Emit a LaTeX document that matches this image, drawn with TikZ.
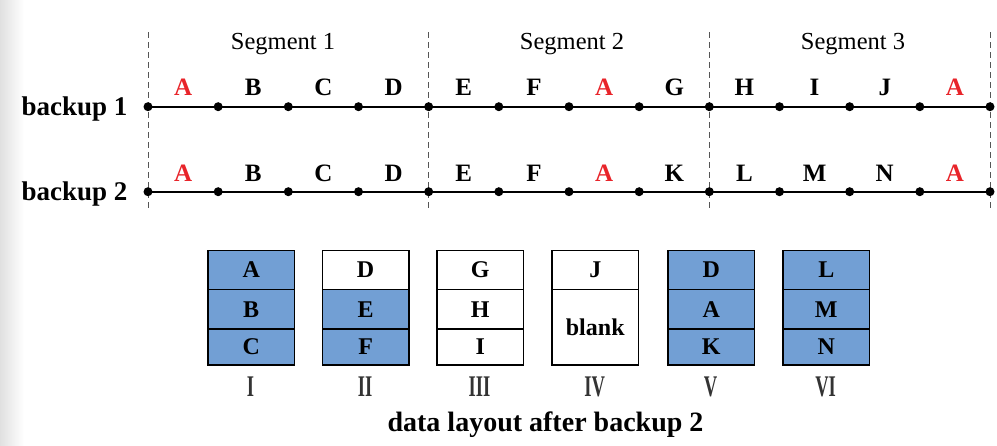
\documentclass[tikz,border=0pt]{standalone}
\usepackage{fontspec}
\setmainfont{Liberation Serif}
\newfontfamily\romanfont[FakeStretch=0.62]{Liberation Serif Bold}
\definecolor{cellblue}{HTML}{729FD4}
\definecolor{hlred}{HTML}{E8242A}
\definecolor{dashgray}{HTML}{555555}
\definecolor{numgray}{HTML}{333333}
\begin{document}
\begin{tikzpicture}[x=1pt,y=-1pt,
  dot/.style={circle,fill=black,inner sep=0pt,minimum size=9pt},
  mainline/.style={line width=2.4pt},
  sepline/.style={dashgray,dashed,line width=0.9pt,dash pattern=on 6pt off 4pt},
  seglbl/.style={font=\fontsize{24.5}{29}\selectfont,anchor=base},
  rowlbl/.style={font=\fontsize{27}{32}\selectfont\bfseries,anchor=base east},
  letter/.style={font=\fontsize{25}{30}\selectfont\bfseries,anchor=base},
  redletter/.style={letter,text=hlred},
  cell/.style={draw=black,line width=1.2pt,minimum width=86.7pt,inner sep=0pt,
    anchor=north west,font=\fontsize{24}{28}\selectfont\bfseries,text height=16pt,text depth=0pt},
  bluecell/.style={cell,fill=cellblue},
  whitecell/.style={cell,fill=white},
  roman/.style={font=\romanfont\fontsize{30}{34}\selectfont,text=numgray,anchor=base},
  caption/.style={font=\fontsize{28}{33}\selectfont\bfseries,anchor=base}]
\useasboundingbox (0,0) rectangle (997,445);
\shade[left color=black!12,right color=white] (0,0) rectangle (24,445);

% dashed segment separators
\foreach \k/\x in {0/148,1/428.7,2/709.3,3/990}{
  \coordinate (dt\k) at (\x,32);
  \coordinate (db\k) at (\x,210);
}
\foreach \k in {0,1,2,3}{ \draw[sepline] (dt\k) -- (db\k); }

% segment labels
\node[seglbl] (seg1) at (283,49) {Segment 1};
\node[seglbl] (seg2) at (572,49) {Segment 2};
\node[seglbl] (seg3) at (853,49) {Segment 3};

% row labels
\node[rowlbl] (bk1) at (131,115) {backup 1};
\node[rowlbl] (bk2) at (131,200) {backup 2};

% timelines
\foreach \i in {0,...,12}{
  \coordinate (u\i) at ({148+70.1667*\i},106.7);
  \coordinate (v\i) at ({148+70.1667*\i},191.7);
}
\draw[mainline] (u0) -- (u12);
\draw[mainline] (v0) -- (v12);
\foreach \i in {0,...,12}{
  \node[dot] (pu\i) at (u\i) {};
  \node[dot] (pv\i) at (v\i) {};
}

% letters backup 1
\foreach \i/\t/\s in {0/A/redletter,1/B/letter,2/C/letter,3/D/letter,4/E/letter,5/F/letter,
  6/A/redletter,7/G/letter,8/H/letter,9/I/letter,10/J/letter,11/A/redletter}{
  \node[\s] (la\i) at ({183.08+70.1667*\i},95) {\t};
}
% letters backup 2
\foreach \i/\t/\s in {0/A/redletter,1/B/letter,2/C/letter,3/D/letter,4/E/letter,5/F/letter,
  6/A/redletter,7/K/letter,8/L/letter,9/M/letter,10/N/letter,11/A/redletter}{
  \node[\s] (lb\i) at ({183.08+70.1667*\i},181) {\t};
}

% data layout boxes
% Box I
\node[bluecell,minimum height=39.2pt] (b1a) at (207.3,249.5) {A};
\node[bluecell,minimum height=39.6pt] (b1b) at (207.3,288.7) {B};
\node[bluecell,minimum height=36pt]   (b1c) at (207.3,328.3) {C};
% Box II
\node[whitecell,minimum height=39.2pt] (b2a) at (321.7,249.5) {D};
\node[bluecell,minimum height=39.6pt]  (b2b) at (321.7,288.7) {E};
\node[bluecell,minimum height=36pt]    (b2c) at (321.7,328.3) {F};
% Box III
\node[whitecell,minimum height=39.2pt] (b3a) at (436.3,249.5) {G};
\node[whitecell,minimum height=39.6pt] (b3b) at (436.3,288.7) {H};
\node[whitecell,minimum height=36pt]   (b3c) at (436.3,328.3) {I};
% Box IV
\node[whitecell,minimum height=39.2pt] (b4a) at (551.3,249.5) {J};
\node[whitecell,minimum height=75.6pt] (b4b) at (551.3,288.7) {blank};
% Box V
\node[bluecell,minimum height=39.2pt] (b5a) at (667.3,249.5) {D};
\node[bluecell,minimum height=39.6pt] (b5b) at (667.3,288.7) {A};
\node[bluecell,minimum height=36pt]   (b5c) at (667.3,328.3) {K};
% Box VI
\node[bluecell,minimum height=39.2pt] (b6a) at (782.3,249.5) {L};
\node[bluecell,minimum height=39.6pt] (b6b) at (782.3,288.7) {M};
\node[bluecell,minimum height=36pt]   (b6c) at (782.3,328.3) {N};

% roman numerals
\node[roman] (r1) at (250.6,396) {I};
\node[roman] (r2) at (365,396) {II};
\node[roman] (r3) at (479.6,396) {III};
\node[roman] (r4) at (594.6,396) {IV};
\node[roman] (r5) at (710.6,396) {V};
\node[roman] (r6) at (825.6,396) {VI};

% caption
\node[caption] (cap) at (545.5,431) {data layout after backup 2};
\end{tikzpicture}
\end{document}
